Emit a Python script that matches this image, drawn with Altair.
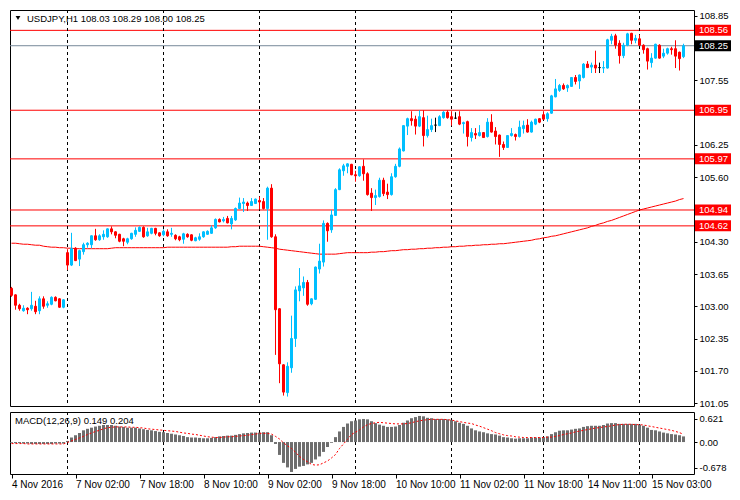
import altair as alt
import pandas as pd

SYMBOL = "USDJPY,H1"
FIRST_INDEX = -14  # bars of 4 Nov before 7 Nov 00:00 (index 0)

# ---- hourly candles, grouped by trading day ----
opens = [
    # 4 Nov
    103.36,103.23,103.02,102.91,102.96,102.95,103.00,102.91,103.15,103.02,103.04,103.18,103.15,102.98,
    # 7 Nov
    104.08,103.83,104.17,103.95,104.10,104.24,104.24,104.42,104.34,104.40,104.40,104.56,104.50,104.45,104.36,104.29,104.36,104.45,104.51,104.59,104.42,104.47,104.57,104.48,
    # 8 Nov
    104.44,104.50,104.45,104.43,104.40,104.35,104.45,104.44,104.32,104.35,104.40,104.45,104.47,104.58,104.75,104.72,104.77,104.66,104.74,104.97,105.07,105.08,105.03,105.07,
    # 9 Nov
    105.13,105.11,104.97,105.38,104.40,102.95,101.82,101.26,101.76,102.35,103.31,103.37,103.48,103.05,103.14,103.75,103.89,104.67,104.54,104.83,105.35,105.73,105.82,105.86,
    # 10 Nov
    105.65,105.63,105.82,105.67,105.28,105.19,105.21,105.54,105.30,105.25,105.61,105.82,106.13,106.63,106.78,106.77,106.63,106.80,106.44,106.56,106.65,106.64,106.80,106.91,
    # 11 Nov
    106.82,106.79,106.82,106.68,106.72,106.40,106.48,106.44,106.50,106.42,106.71,106.53,106.45,106.26,106.20,106.44,106.46,106.42,106.58,106.65,106.51,106.67,106.78,
    # 14 Nov
    106.86,106.78,106.89,107.22,107.35,107.45,107.40,107.43,107.61,107.54,107.61,107.88,107.82,107.86,107.81,107.80,107.80,108.36,108.45,108.30,108.05,108.26,108.50,108.36,
    # 15 Nov
    108.39,108.26,108.19,107.91,108.00,108.26,108.04,108.10,108.19,108.19,108.12,108.03,
]
highs = [
    103.39,103.24,103.05,103.02,102.98,103.29,103.11,103.20,103.20,103.10,103.20,103.20,103.16,103.14,
    104.15,104.48,104.19,104.14,104.28,104.29,104.43,104.56,104.45,104.53,104.57,104.61,104.51,104.46,104.38,104.38,104.48,104.59,104.61,104.61,104.58,104.58,104.58,104.49,
    104.55,104.55,104.58,104.45,104.42,104.48,104.47,104.45,104.40,104.47,104.51,104.53,104.63,104.77,104.77,104.80,104.82,104.82,104.99,105.19,105.18,105.11,105.18,105.17,
    105.21,105.18,105.41,105.46,104.45,102.96,101.83,101.87,102.81,103.40,103.77,103.60,103.53,103.16,103.80,104.26,104.73,104.69,104.94,105.38,105.78,105.87,105.88,105.87,
    105.73,105.82,105.96,105.70,105.38,105.35,105.59,105.59,105.47,105.68,105.87,106.20,106.65,106.80,106.93,106.84,106.95,106.95,106.84,106.78,106.80,106.85,106.93,106.95,
    106.93,106.91,106.93,106.72,106.74,106.59,106.59,106.65,106.51,106.79,106.87,106.61,106.46,106.32,106.45,106.59,106.48,106.74,106.74,106.77,106.74,106.78,106.79,
    106.93,106.91,107.26,107.58,107.48,107.49,107.47,107.62,107.66,107.67,107.90,107.94,107.91,108.15,107.91,107.94,108.39,108.49,108.49,108.36,108.31,108.51,108.51,108.47,
    108.47,108.28,108.21,108.10,108.29,108.28,108.19,108.21,108.23,108.36,108.13,108.29,
]
lows = [
    103.19,102.93,102.91,102.89,102.84,102.91,102.84,102.84,102.95,102.97,103.02,103.10,102.97,102.96,
    103.73,103.81,103.91,103.81,104.04,104.18,104.17,104.32,104.32,104.34,104.38,104.45,104.37,104.29,104.21,104.25,104.34,104.40,104.50,104.38,104.40,104.45,104.43,104.40,
    104.41,104.40,104.40,104.33,104.31,104.26,104.38,104.31,104.31,104.32,104.38,104.44,104.46,104.56,104.69,104.69,104.67,104.55,104.72,104.96,104.90,104.92,105.02,105.06,
    104.95,104.95,104.34,104.38,102.02,101.45,101.20,101.18,101.66,102.18,103.10,103.21,103.01,103.02,103.13,103.66,103.80,104.30,104.48,104.82,105.34,105.63,105.68,105.64,
    105.51,105.61,105.53,105.23,104.92,105.04,105.19,105.22,105.16,105.23,105.59,105.80,106.12,106.45,106.64,106.46,106.61,106.22,106.40,106.51,106.51,106.63,106.78,106.78,
    106.64,106.78,106.65,106.48,106.22,106.32,106.37,106.42,106.39,106.40,106.50,106.26,106.01,106.15,106.19,106.42,106.34,106.40,106.48,106.50,106.50,106.65,106.69,
    106.76,106.72,106.88,107.21,107.32,107.36,107.32,107.42,107.47,107.38,107.59,107.80,107.70,107.70,107.70,107.70,107.79,108.28,108.19,107.89,108.00,108.24,108.28,108.30,
    108.25,108.09,107.77,107.81,107.99,107.99,108.00,108.07,108.07,107.80,107.75,108.00,
]
closes = [
    103.22,103.02,102.95,102.96,102.93,103.02,102.89,103.15,103.00,103.05,103.18,103.11,102.98,103.13,
    103.83,104.16,103.92,104.12,104.24,104.27,104.42,104.34,104.42,104.45,104.56,104.50,104.43,104.31,104.31,104.36,104.47,104.53,104.59,104.40,104.50,104.57,104.47,104.42,
    104.51,104.42,104.47,104.36,104.34,104.46,104.40,104.33,104.38,104.40,104.50,104.51,104.58,104.75,104.70,104.75,104.68,104.77,104.97,105.08,105.10,105.03,105.11,105.16,
    105.10,104.97,105.38,104.40,102.93,101.84,101.27,101.79,102.35,103.33,103.41,103.48,103.04,103.15,103.79,103.91,104.67,104.52,104.84,105.35,105.75,105.83,105.87,105.65,
    105.63,105.81,105.67,105.25,105.19,105.23,105.54,105.27,105.25,105.61,105.82,106.17,106.64,106.78,106.74,106.63,106.82,106.44,106.56,106.64,106.65,106.82,106.91,106.80,
    106.77,106.79,106.67,106.70,106.42,106.50,106.45,106.50,106.40,106.71,106.51,106.42,106.26,106.20,106.44,106.48,106.42,106.61,106.64,106.51,106.71,106.77,106.71,
    106.77,106.88,107.24,107.38,107.45,107.38,107.45,107.61,107.53,107.66,107.88,107.81,107.86,107.80,107.81,107.81,108.37,108.44,108.26,108.05,108.26,108.49,108.36,108.40,
    108.26,108.17,107.94,108.00,108.28,108.00,108.10,108.19,108.17,108.04,107.99,108.25,
]
moving_avg = [
    104.27,104.27,104.26,104.25,104.25,104.24,104.23,104.23,104.21,104.20,104.19,104.19,104.18,104.18,
    104.17,104.17,104.16,104.16,104.16,104.16,104.16,104.16,104.16,104.16,104.16,104.17,104.18,104.18,104.18,104.18,104.18,104.18,104.18,104.18,104.18,104.18,104.18,104.18,
    104.18,104.19,104.19,104.19,104.19,104.19,104.19,104.19,104.19,104.19,104.19,104.19,104.19,104.19,104.19,104.19,104.19,104.20,104.20,104.21,104.21,104.21,104.21,104.21,
    104.21,104.20,104.19,104.18,104.17,104.15,104.14,104.13,104.12,104.11,104.10,104.09,104.08,104.07,104.06,104.05,104.05,104.05,104.05,104.05,104.06,104.07,104.08,104.08,
    104.08,104.08,104.08,104.08,104.09,104.09,104.10,104.10,104.11,104.12,104.12,104.13,104.14,104.14,104.15,104.15,104.16,104.16,104.17,104.17,104.18,104.18,104.19,104.19,
    104.20,104.20,104.21,104.21,104.22,104.22,104.23,104.23,104.24,104.24,104.25,104.25,104.26,104.26,104.27,104.28,104.29,104.30,104.31,104.32,104.33,104.35,104.36,
    104.38,104.39,104.41,104.42,104.44,104.46,104.48,104.50,104.52,104.54,104.56,104.58,104.61,104.63,104.66,104.68,104.71,104.73,104.76,104.79,104.82,104.85,104.88,104.91,
    104.94,104.96,104.98,105.00,105.02,105.04,105.06,105.08,105.10,105.12,105.15,105.17,
]
macd_hist = [
    -0.02,-0.03,-0.03,-0.04,-0.04,-0.05,-0.05,-0.05,-0.05,-0.05,-0.05,-0.04,-0.04,-0.04,
    0.03,0.12,0.18,0.24,0.31,0.35,0.38,0.41,0.43,0.45,0.45,0.45,0.43,0.41,0.40,0.38,0.38,0.38,0.36,0.34,0.32,0.31,0.29,0.27,
    0.26,0.24,0.22,0.20,0.18,0.16,0.13,0.12,0.12,0.11,0.10,0.10,0.11,0.13,0.15,0.16,0.17,0.17,0.19,0.21,0.23,0.24,0.25,0.25,
    0.25,0.26,0.26,0.18,-0.05,-0.34,-0.55,-0.67,-0.79,-0.71,-0.65,-0.63,-0.59,-0.55,-0.46,-0.38,-0.26,-0.13,-0.02,0.13,0.28,0.40,0.49,0.55,
    0.57,0.60,0.61,0.60,0.55,0.50,0.46,0.43,0.40,0.40,0.41,0.45,0.51,0.57,0.63,0.66,0.69,0.68,0.64,0.63,0.61,0.61,0.61,0.60,
    0.58,0.55,0.51,0.48,0.43,0.36,0.31,0.28,0.26,0.23,0.21,0.20,0.17,0.13,0.12,0.10,0.09,0.10,0.10,0.10,0.12,0.12,0.12,
    0.13,0.15,0.21,0.26,0.30,0.31,0.31,0.33,0.35,0.36,0.40,0.42,0.43,0.43,0.43,0.45,0.49,0.50,0.50,0.48,0.48,0.48,0.48,0.48,
    0.46,0.43,0.38,0.32,0.31,0.28,0.25,0.23,0.21,0.20,0.18,0.149,
]
macd_signal = [
    -0.04,-0.04,-0.04,-0.04,-0.05,-0.05,-0.05,-0.05,-0.05,-0.05,-0.05,-0.05,-0.05,-0.05,
    -0.01,0.03,0.07,0.11,0.15,0.20,0.24,0.28,0.31,0.35,0.38,0.39,0.40,0.40,0.40,0.40,0.39,0.39,0.38,0.37,0.35,0.34,0.33,0.32,
    0.31,0.30,0.29,0.28,0.26,0.24,0.23,0.21,0.20,0.18,0.16,0.14,0.13,0.12,0.12,0.13,0.14,0.14,0.15,0.16,0.17,0.18,0.20,0.21,
    0.23,0.23,0.23,0.21,0.15,0.08,-0.02,-0.10,-0.17,-0.27,-0.38,-0.46,-0.52,-0.59,-0.61,-0.60,-0.55,-0.50,-0.42,-0.33,-0.17,-0.05,0.07,0.20,
    0.26,0.32,0.40,0.46,0.49,0.51,0.52,0.51,0.50,0.49,0.48,0.48,0.48,0.49,0.51,0.54,0.56,0.58,0.59,0.60,0.60,0.60,0.60,0.59,
    0.58,0.56,0.54,0.52,0.50,0.49,0.45,0.42,0.38,0.34,0.30,0.25,0.22,0.19,0.17,0.16,0.14,0.13,0.12,0.12,0.12,0.12,0.12,
    0.12,0.13,0.13,0.15,0.17,0.20,0.22,0.24,0.27,0.29,0.31,0.33,0.35,0.37,0.38,0.40,0.41,0.43,0.45,0.46,0.47,0.47,0.47,0.46,
    0.46,0.45,0.43,0.41,0.39,0.37,0.35,0.33,0.31,0.28,0.25,0.204,
]

level_prices = [108.56, 106.95, 105.97, 104.94, 104.62]
bid_prices = [108.25]
price_ticks = [108.85, 108.20, 107.55, 106.90, 106.25, 105.60, 104.95, 104.30, 103.65, 103.00, 102.35, 101.70, 101.05]
covered_price_ticks = [108.20, 106.90, 104.95]  # labels hidden behind the price boxes
macd_ticks = [0.621, 0.0, -0.678]
day_starts = [0, 24, 48, 72, 96, 119, 143]
time_tick_index = [-14, 2, 18, 34, 50, 66, 82, 98, 114, 130, 146]
time_tick_labels = ["4 Nov 2016", "7 Nov 02:00", "7 Nov 18:00", "8 Nov 10:00", "9 Nov 02:00",
                    "9 Nov 18:00", "10 Nov 10:00", "11 Nov 02:00", "11 Nov 18:00",
                    "14 Nov 11:00", "15 Nov 03:00"]

n = len(opens)
assert len(highs) == n and len(lows) == n and len(closes) == n
assert len(moving_avg) == n and len(macd_hist) == n and len(macd_signal) == n

idx = list(range(FIRST_INDEX, FIRST_INDEX + n))
dirs = ["up" if c > o else ("down" if c < o else "doji") for o, c in zip(opens, closes)]
df = pd.DataFrame({"i": idx, "open": opens, "high": highs, "low": lows,
                   "close": closes, "ma": moving_avg, "dir": dirs,
                   "hist": macd_hist, "signal": macd_signal})

FONT = "Liberation Sans"
FS = 9.5
W, H1, H2 = 684, 396, 62

# 4 px per bar, candle centres on half pixels
xs = alt.Scale(domain=[-14.375, 156.625], nice=False, zero=False, padding=0)
ys = alt.Scale(domain=[100.99, 108.97], nice=False, zero=False, padding=0)
ms = alt.Scale(domain=[-0.844, 0.794], nice=False, zero=False, padding=0)
cs = alt.Scale(domain=["up", "down", "doji"], range=["#00BFFF", "#FF0000", "#000000"])

hide_expr = " || ".join(f"abs(datum.value - {v}) < 0.001" for v in covered_price_ticks)
price_axis = alt.Axis(orient="right", values=price_ticks,
                      labelExpr=f"({hide_expr}) ? '' : format(datum.value, '.2f')",
                      tickSize=3, tickColor="black", labelColor="black", labelFont=FONT,
                      labelFontSize=FS, labelPadding=2, domain=False, grid=False,
                      title=None, labelOverlap=False, labelFlush=False, zindex=0)

label_expr = ""
for k, lab in zip(time_tick_index, time_tick_labels):
    label_expr += f"datum.value == {k} ? '{lab}' : "
label_expr += "''"

time_axis = alt.Axis(values=time_tick_index, labelExpr=label_expr, labelAlign="left",
                     labelBaseline="top", tickSize=4, labelPadding=1, tickColor="black",
                     labelColor="black", labelFont=FONT, labelFontSize=10, domain=False,
                     grid=False, title=None, labelOverlap=False, labelFlush=False)

macd_axis = alt.Axis(orient="right", values=macd_ticks,
                     labelExpr="datum.value == 0 ? '0.00' : '' + datum.value",
                     tickSize=3, tickColor="black", labelColor="black", labelFont=FONT,
                     labelFontSize=FS, labelPadding=2, domain=False, grid=False,
                     title=None, labelOverlap=False, labelFlush=False)

base = alt.Chart(df)
xenc = alt.X("i:Q", scale=xs, axis=None)

levels_df = pd.DataFrame({"price": level_prices})
bid_df = pd.DataFrame({"price": bid_prices})
sep_df = pd.DataFrame({"i": day_starts})

def py(field):
    return alt.Y(field, scale=ys, axis=price_axis)

level_lines = alt.Chart(levels_df).mark_rule(color="#FF0000", strokeWidth=1).encode(y=py("price:Q"))
bid_line = alt.Chart(bid_df).mark_rule(color="#778899", strokeWidth=1).encode(y=py("price:Q"))
seps = alt.Chart(sep_df).mark_rule(color="black", strokeDash=[3, 3], strokeWidth=1).encode(x=xenc)

ma_line = base.mark_line(color="#FF0000", strokeWidth=1).encode(x=xenc, y=py("ma:Q"))
wicks = base.mark_rule(strokeWidth=1).encode(
    x=xenc, y=py("low:Q"), y2="high:Q",
    color=alt.Color("dir:N", scale=cs, legend=None))
bodies = base.mark_bar(size=2, strokeWidth=1).encode(
    x=xenc, y=py("open:Q"), y2="close:Q",
    color=alt.Color("dir:N", scale=cs, legend=None),
    stroke=alt.Stroke("dir:N", scale=cs, legend=None))

level_boxes = alt.Chart(levels_df).mark_tick(orient="horizontal", size=36, thickness=11,
                                             opacity=1, color="#FF0000").encode(
    y=py("price:Q"), x=alt.value(W + 19))
bid_box = alt.Chart(bid_df).mark_tick(orient="horizontal", size=36, thickness=11,
                                      opacity=1, color="#000000").encode(
    y=py("price:Q"), x=alt.value(W + 19))
box_text_levels = alt.Chart(levels_df).mark_text(align="left", baseline="middle", font=FONT,
                                                 fontSize=FS, color="white").encode(
    y=py("price:Q"), x=alt.value(W + 5), text=alt.Text("price:Q", format=".2f"))
box_text_bid = alt.Chart(bid_df).mark_text(align="left", baseline="middle", font=FONT,
                                           fontSize=FS, color="white").encode(
    y=py("price:Q"), x=alt.value(W + 5), text=alt.Text("price:Q", format=".2f"))

title_text = f"{SYMBOL}  {opens[-1]:.2f} {highs[-1]:.2f} {lows[-1]:.2f} {closes[-1]:.2f}"
title_df = pd.DataFrame({"t": [title_text]})
title_mark = alt.Chart(title_df).mark_text(align="left", baseline="middle", font=FONT,
                                           fontSize=FS, color="black").encode(
    x=alt.value(17), y=alt.value(9), text="t:N")
tri = alt.Chart(title_df).mark_point(shape="triangle-down", filled=True, size=22,
                                     color="black", opacity=1).encode(
    x=alt.value(8), y=alt.value(8))

main = alt.layer(level_lines, bid_line, seps, ma_line, wicks, bodies,
                 level_boxes, bid_box, box_text_levels, box_text_bid, tri, title_mark
                 ).properties(width=W, height=H1)

xm = alt.X("i:Q", scale=xs, axis=time_axis)
def my(field):
    return alt.Y(field, scale=ms, axis=macd_axis)

hist_bars = base.mark_bar(size=3, color="#6E6E6E").encode(
    x=xm, y=my("hist:Q"), y2=alt.datum(0))
sig_line = base.mark_line(color="#FF0000", strokeDash=[2, 2], strokeWidth=1).encode(
    x=xm, y=my("signal:Q"))
seps2 = alt.Chart(sep_df).mark_rule(color="black", strokeDash=[3, 3], strokeWidth=1).encode(x=xm)
macd_title = f"MACD(12,26,9) {macd_hist[-1]:.3f} {macd_signal[-1]:.3f}"
macd_lab = alt.Chart(pd.DataFrame({"t": [macd_title]})).mark_text(
    align="left", baseline="middle", font=FONT, fontSize=FS, color="black").encode(
    x=alt.value(5), y=alt.value(9), text="t:N")

macd = alt.layer(seps2, hist_bars, sig_line, macd_lab).properties(width=W, height=H2)

chart = alt.vconcat(main, macd, spacing=2).configure_view(
    stroke="black", strokeWidth=1).configure_axis(
    labelOverlap=False, labelFlush=False).properties(
    padding={"left": 1, "top": 1, "right": 0, "bottom": 0}, background="white")

chart.save("out.html", embed_options={"renderer": "svg", "actions": False})
